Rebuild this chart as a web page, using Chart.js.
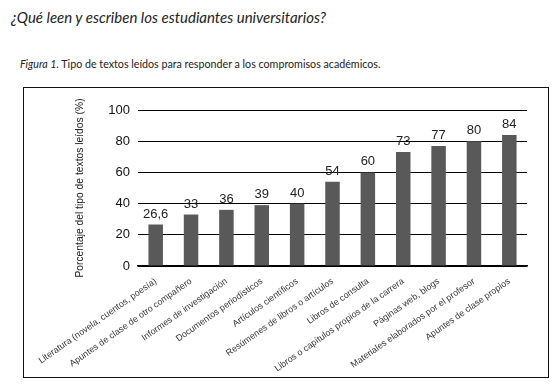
<!DOCTYPE html>
<html>
<head>
<meta charset="utf-8">
<script src="https://cdn.jsdelivr.net/npm/chart.js@4"></script>
<style>
  html, body { margin: 0; padding: 0; background: #fff; }
  body { width: 558px; height: 391px; position: relative; overflow: hidden; }
  #title {
    position: absolute; left: 11px; top: 8px;
    font: italic 15px Lato, sans-serif; color: #222; white-space: nowrap;
  }
  #caption {
    position: absolute; left: 20px; top: 57px;
    font: 10.7px Lato, sans-serif; color: #222; white-space: nowrap;
  }
  #box {
    position: absolute; left: 23px; top: 87px; width: 524px; height: 289px;
    border: 1.5px solid #111;
  }
  #box canvas { display: block; }
</style>
</head>
<body>
<div id="title">¿Qué leen y escriben los estudiantes universitarios?</div>
<div id="caption"><i>Figura 1.</i> Tipo de textos leídos para responder a los compromisos académicos.</div>
<div id="box"><canvas id="chart" width="524" height="289"></canvas></div>

<script>
const categories = [
    'Literatura (novela, cuentos, poesía)',
    'Apuntes de clase de otro compañero',
    'Informes de investigación',
    'Documentos periodísticos',
    'Artículos científicos',
    'Resúmenes de libros o artículos',
    'Libros de consulta',
    'Libros o capítulos propios de la carrera',
    'Páginas web, blogs',
    'Materiales elaborados por el profesor',
    'Apuntes de clase propios'
];
const percentages = [26.6, 33, 36, 39, 40, 54, 60, 73, 77, 80, 84];
const yTicks = [0, 20, 40, 60, 80, 100];
const yTitle = 'Porcentaje del tipo de textos leídos (%)';

// dibuja el valor encima de cada barra
const valueLabels = {
    id: 'valueLabels',
    afterDatasetsDraw: function (chart) {
        const ctx = chart.ctx;
        const meta = chart.getDatasetMeta(0);
        ctx.save();
        ctx.font = '13px "Liberation Sans", Arial, sans-serif';
        ctx.fillStyle = '#222';
        ctx.textAlign = 'center';
        ctx.textBaseline = 'bottom';
        meta.data.forEach((bar, i) => {
            const text = String(percentages[i]).replace('.', ',');
            ctx.fillText(text, bar.x, bar.y - 4);
        });
        ctx.restore();
    }
};

new Chart(document.getElementById('chart'), {
    type: 'bar',
    data: {
        labels: categories,
        datasets: [{
            data: percentages,
            backgroundColor: '#595959',
            borderWidth: 0,
            barPercentage: 0.82,
            categoryPercentage: 0.5
        }]
    },
    options: {
        responsive: false,
        animation: false,
        layout: { padding: { top: 22, right: 21, left: 50, bottom: 0 } },
        plugins: { legend: { display: false }, tooltip: { enabled: false } },
        scales: {
            x: {
                grid: { display: false },
                border: { color: '#000', width: 1.5 },
                ticks: {
                    autoSkip: false,
                    maxRotation: 35,
                    minRotation: 35,
                    padding: 2,
                    color: '#333',
                    font: { family: '"Liberation Sans", Arial, sans-serif', size: 9 }
                },
                afterFit: function (scale) { scale.height = 111; }
            },
            y: {
                min: 0,
                max: 100,
                afterBuildTicks: function (scale) {
                    scale.ticks = yTicks.map(v => ({ value: v }));
                },
                border: { display: false },
                grid: { color: '#000', lineWidth: 1, drawTicks: false },
                ticks: {
                    padding: 8,
                    color: '#111',
                    font: { family: '"Liberation Sans", Arial, sans-serif', size: 13 }
                },
                title: {
                    display: true,
                    text: yTitle,
                    color: '#222',
                    padding: { top: 0, bottom: 0 },
                    font: { family: '"Liberation Sans", Arial, sans-serif', size: 10.3 }
                },
                afterFit: function (scale) { scale.width = 64; }
            }
        }
    },
    plugins: [valueLabels]
});
</script>
</body>
</html>
